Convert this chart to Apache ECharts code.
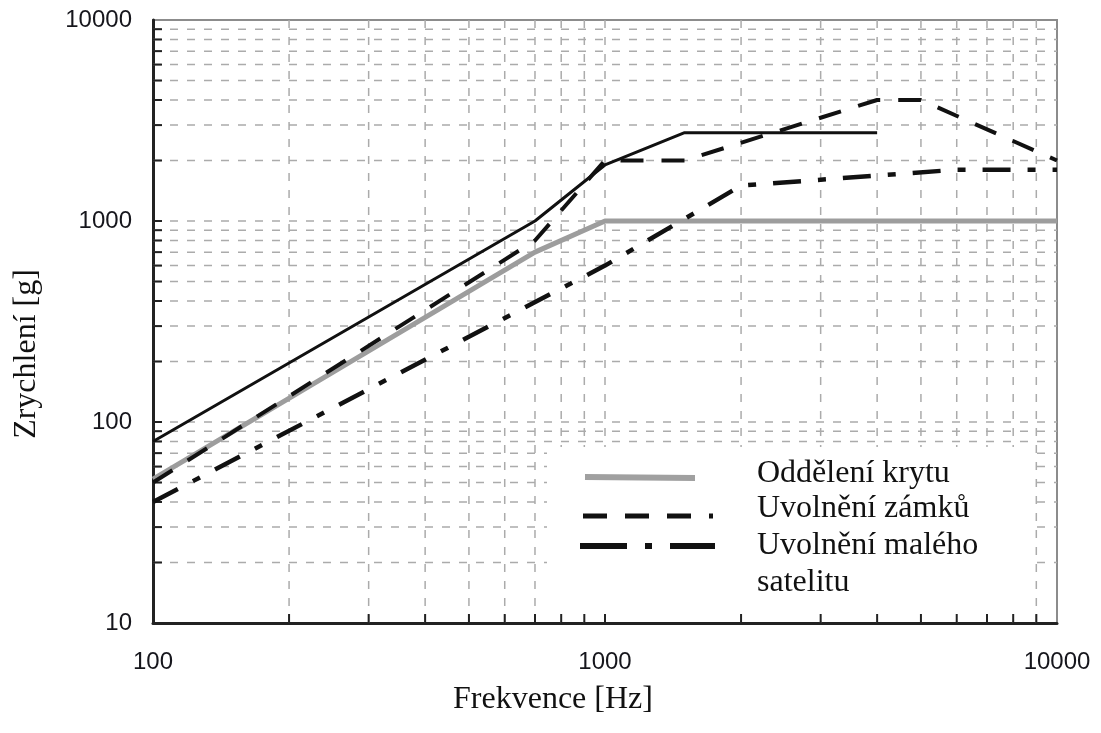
<!DOCTYPE html>
<html>
<head>
<meta charset="utf-8">
<script src="https://cdn.jsdelivr.net/npm/echarts@6/dist/echarts.min.js"></script>
<style>
  html, body { margin: 0; padding: 0; background: #fff; }
  #main { width: 1101px; height: 733px; }
</style>
</head>
<body>
<div id="main"></div>
<script>
// frequency [Hz] / acceleration [g] breakpoints
const freqSolid = [100, 700, 1000, 1500, 4000];
const accSolid = [80, 1000, 1900, 2750, 2750];

const freqKryt = [100, 700, 1000, 10000];
const accKryt = [52, 700, 1000, 1000];

const freqZamky = [100, 700, 1000, 1500, 4000, 5000, 10000];
const accZamky = [50, 800, 2000, 2000, 4000, 4000, 2000];

const freqSatelit = [100, 1000, 2000, 6000, 10000];
const accSatelit = [40, 600, 1500, 1800, 1800];

// grid lines / ticks at 2..9 of every decade
const xGridValues = [200, 300, 400, 500, 600, 700, 800, 900, 1000,
  2000, 3000, 4000, 5000, 6000, 7000, 8000, 9000];
const yGridValues = [20, 30, 40, 50, 60, 70, 80, 90, 100,
  200, 300, 400, 500, 600, 700, 800, 900, 1000,
  2000, 3000, 4000, 5000, 6000, 7000, 8000, 9000];

const legendNames = ['Oddělení krytu', 'Uvolnění zámků', 'Uvolnění malého', 'satelitu'];

const zip = (xs, ys) => xs.map((x, i) => [x, ys[i]]);

const chart = echarts.init(document.getElementById('main'));

const gridStyle = { stroke: '#ababab', lineWidth: 1.5, lineDash: [8, 9] };
const tickStyle = { stroke: '#222', lineWidth: 2 };

const option = {
  animation: false,
  grid: {
    left: 153, right: 44, top: 20, bottom: 110,
    show: true, borderColor: '#8c8c8c', borderWidth: 2
  },
  xAxis: {
    type: 'log', logBase: 10, min: 100, max: 10000,
    axisLine: { lineStyle: { color: '#222', width: 3 } },
    axisTick: { show: false },
    splitLine: { show: false },
    axisLabel: {
      margin: 27, fontFamily: 'Liberation Sans', fontSize: 24, color: '#16161c',
      formatter: v => String(Math.round(v))
    }
  },
  yAxis: {
    type: 'log', logBase: 10, min: 10, max: 10000,
    axisLine: { lineStyle: { color: '#222', width: 3 } },
    axisTick: { show: false },
    splitLine: { show: false },
    axisLabel: {
      margin: 21, fontFamily: 'Liberation Sans', fontSize: 24, color: '#16161c',
      formatter: v => String(Math.round(v))
    }
  },
  series: [
    {
      type: 'custom', silent: true, z: 1,
      data: xGridValues.map(v => [v, 10]),
      renderItem: (params, api) => {
        const b = api.coord([api.value(0), 10]);
        const t = api.coord([api.value(0), 10000]);
        return { type: 'line', shape: { x1: b[0], y1: b[1], x2: t[0], y2: t[1] }, style: gridStyle };
      }
    },
    {
      type: 'custom', silent: true, z: 1,
      data: yGridValues.map(v => [100, v]),
      renderItem: (params, api) => {
        const l = api.coord([100, api.value(1)]);
        const r = api.coord([10000, api.value(1)]);
        return { type: 'line', shape: { x1: l[0], y1: l[1], x2: r[0], y2: r[1] }, style: gridStyle };
      }
    },
    {
      type: 'custom', silent: true, z: 10,
      data: xGridValues.map(v => [v, 10]),
      renderItem: (params, api) => {
        const b = api.coord([api.value(0), 10]);
        return { type: 'line', shape: { x1: b[0], y1: b[1], x2: b[0], y2: b[1] - 9 }, style: tickStyle };
      }
    },
    {
      type: 'custom', silent: true, z: 10,
      data: yGridValues.map(v => [100, v]),
      renderItem: (params, api) => {
        const l = api.coord([100, api.value(1)]);
        return { type: 'line', shape: { x1: l[0], y1: l[1], x2: l[0] + 9, y2: l[1] }, style: tickStyle };
      }
    },
    {
      name: legendNames[0], type: 'line', z: 20, symbol: 'none',
      data: zip(freqKryt, accKryt),
      lineStyle: { color: '#9d9d9d', width: 5 }
    },
    {
      type: 'line', z: 21, symbol: 'none',
      data: zip(freqSolid, accSolid),
      lineStyle: { color: '#111', width: 3 }
    },
    {
      name: legendNames[1], type: 'line', z: 22, symbol: 'none',
      data: zip(freqZamky, accZamky),
      lineStyle: { color: '#111', width: 4, type: [23, 18] }
    },
    {
      name: legendNames[2], type: 'line', z: 23, symbol: 'none',
      data: zip(freqSatelit, accSatelit),
      lineStyle: { color: '#111', width: 4.5, type: [28, 17, 8, 17] }
    }
  ],
  graphic: [
    // white legend box over the grid
    { type: 'rect', z: 5, silent: true, shape: { x: 547, y: 447, width: 481, height: 174 }, style: { fill: '#fff' } },
    { type: 'line', z: 12, shape: { x1: 585, y1: 477, x2: 695, y2: 478 }, style: { stroke: '#a0a0a0', lineWidth: 6 } },
    { type: 'line', z: 12, shape: { x1: 583, y1: 516, x2: 713, y2: 516 }, style: { stroke: '#111', lineWidth: 5, lineDash: [24, 18] } },
    { type: 'line', z: 12, shape: { x1: 580, y1: 546, x2: 715, y2: 546 }, style: { stroke: '#111', lineWidth: 6, lineDash: [47, 18, 7, 18] } },
    { type: 'text', z: 12, style: { text: legendNames[0], x: 757, y: 474, verticalAlign: 'middle', font: '32px "Liberation Serif"', fill: '#111' } },
    { type: 'text', z: 12, style: { text: legendNames[1], x: 757, y: 509, verticalAlign: 'middle', font: '32px "Liberation Serif"', fill: '#111' } },
    { type: 'text', z: 12, style: { text: legendNames[2], x: 757, y: 546, verticalAlign: 'middle', font: '32px "Liberation Serif"', fill: '#111' } },
    { type: 'text', z: 12, style: { text: legendNames[3], x: 757, y: 583, verticalAlign: 'middle', font: '32px "Liberation Serif"', fill: '#111' } },
    // axis titles
    { type: 'text', z: 12, style: { text: 'Frekvence [Hz]', x: 553, y: 700, align: 'center', verticalAlign: 'middle', font: '32px "Liberation Serif"', fill: '#111' } },
    { type: 'text', z: 12, rotation: Math.PI / 2, x: 27, y: 354, style: { text: 'Zrychlení [g]', x: 0, y: 0, align: 'center', verticalAlign: 'middle', font: '32px "Liberation Serif"', fill: '#111' } }
  ]
};

chart.setOption(option);
</script>
</body>
</html>
